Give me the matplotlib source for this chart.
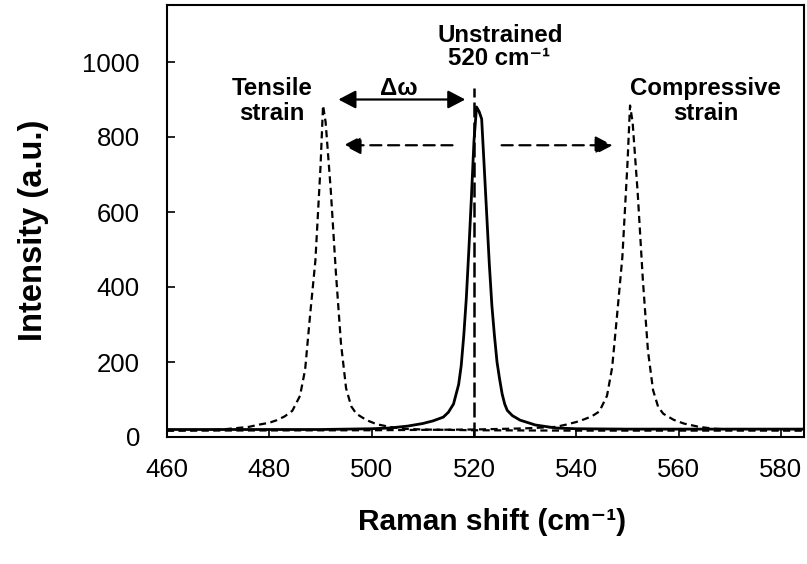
import matplotlib
matplotlib.use('Agg')
import matplotlib.pyplot as plt

plt.rcParams['font.family'] = ['Liberation Sans', 'DejaVu Sans']

# unstrained Si peak (solid)
unstrained_x = [460, 490, 500, 503.5, 507, 510, 512, 514, 515, 516, 517, 517.5, 518, 518.5,
                519, 519.5, 520, 520.5, 521, 521.5, 522, 522.5, 523, 523.5, 524, 524.5,
                525, 525.5, 526, 526.5, 527.5, 529, 532, 536, 540, 550, 585]
unstrained_y = [20, 20, 22, 24, 29, 36, 43, 53, 66, 88, 140, 190, 270, 370,
                500, 640, 790, 880, 868, 848, 720, 590, 460, 350, 270, 200,
                155, 115, 88, 71, 57, 45, 32, 24, 22, 21, 21]

# tensile-strained peak (dashed)
tensile_x = [460, 470, 476, 478, 480, 481.5, 483, 484.5, 486, 487, 488, 489, 490, 490.5,
             491, 492, 493, 494, 495, 496, 497, 499, 501, 503.5, 506, 510, 520, 540, 585]
tensile_y = [17, 19, 27, 33, 38, 45, 55, 70, 110, 180, 330, 470, 720, 884,
             840, 660, 440, 250, 130, 82, 62, 45, 34, 27, 22, 20, 18, 17, 17]

# compressive-strained peak (dashed)
compressive_x = [460, 500, 520, 530, 536, 538, 540, 541.5, 543, 544.5, 546, 547, 548, 549,
                 550, 550.5, 551, 552, 553, 554, 555, 556, 557, 559, 561, 564, 567, 570, 585]
compressive_y = [17, 18, 20, 23, 27, 33, 40, 47, 55, 68, 110, 185, 330, 480,
                 730, 884, 840, 650, 420, 230, 125, 80, 62, 46, 36, 27, 22, 20, 18]

center_shift = 520
marker_top = 932

x_ticks = [460, 480, 500, 520, 540, 560, 580]
y_ticks = [0, 200, 400, 600, 800, 1000]

fig = plt.figure(figsize=(8.07, 5.64), dpi=100)
ax = fig.add_axes([167 / 807, 1 - 437 / 564, 637 / 807, 432 / 564])

ax.plot(tensile_x, tensile_y, color='black', lw=1.6, dashes=(3.2, 2.0))
ax.plot(compressive_x, compressive_y, color='black', lw=1.6, dashes=(3.2, 2.0))
ax.plot(unstrained_x, unstrained_y, color='black', lw=2.0)
ax.plot([center_shift, center_shift], [0, marker_top], color='black', lw=1.8, dashes=(6, 2))

bold = dict(fontsize=17.3, fontweight='bold', ha='center', va='baseline')
ax.text(480.5, 911, 'Tensile', **bold)
ax.text(480.5, 844, 'strain', **bold)
ax.text(565.3, 911, 'Compressive', **bold)
ax.text(565.3, 844, 'strain', **bold)
ax.text(525.2, 1052, 'Unstrained', **bold)
ax.text(524.9, 991, '520 cm⁻¹', **bold)
ax.text(505.4, 913, 'Δω', **bold)

head = 'head_length=1.05,head_width=0.55'
ax.annotate('', xy=(518.3, 900), xytext=(493.5, 900),
            arrowprops=dict(arrowstyle='<|-|>,' + head, color='black', lw=1.6,
                            shrinkA=0, shrinkB=0, mutation_scale=10))
ax.annotate('', xy=(494.5, 778), xytext=(515.8, 778),
            arrowprops=dict(arrowstyle='-|>,' + head, color='black', lw=1.6,
                            linestyle=(0, (5, 3)), shrinkA=0, shrinkB=0, mutation_scale=10))
ax.annotate('', xy=(547.1, 778), xytext=(525.4, 778),
            arrowprops=dict(arrowstyle='-|>,' + head, color='black', lw=1.6,
                            linestyle=(0, (5, 3)), shrinkA=0, shrinkB=0, mutation_scale=10))

ax.set_xlim(460, 584.5)
ax.set_ylim(0, 1152)
ax.set_xticks(x_ticks)
ax.set_yticks(y_ticks)
ax.tick_params(direction='in', length=6, width=1.2, labelsize=18.5)
ax.tick_params(axis='x', pad=15)
ax.tick_params(axis='y', pad=19.5)
for sp in ax.spines.values():
    sp.set_linewidth(1.5)

ax.set_xlabel('Raman shift (cm⁻¹)', fontsize=21.5, fontweight='bold')
ax.set_ylabel('Intensity (a.u.)', fontsize=23.5, fontweight='bold')
ax.xaxis.set_label_coords(0.51, -0.165)
ax.yaxis.set_label_coords(-0.185, 0.479)

fig.savefig('out.png', dpi=100)
